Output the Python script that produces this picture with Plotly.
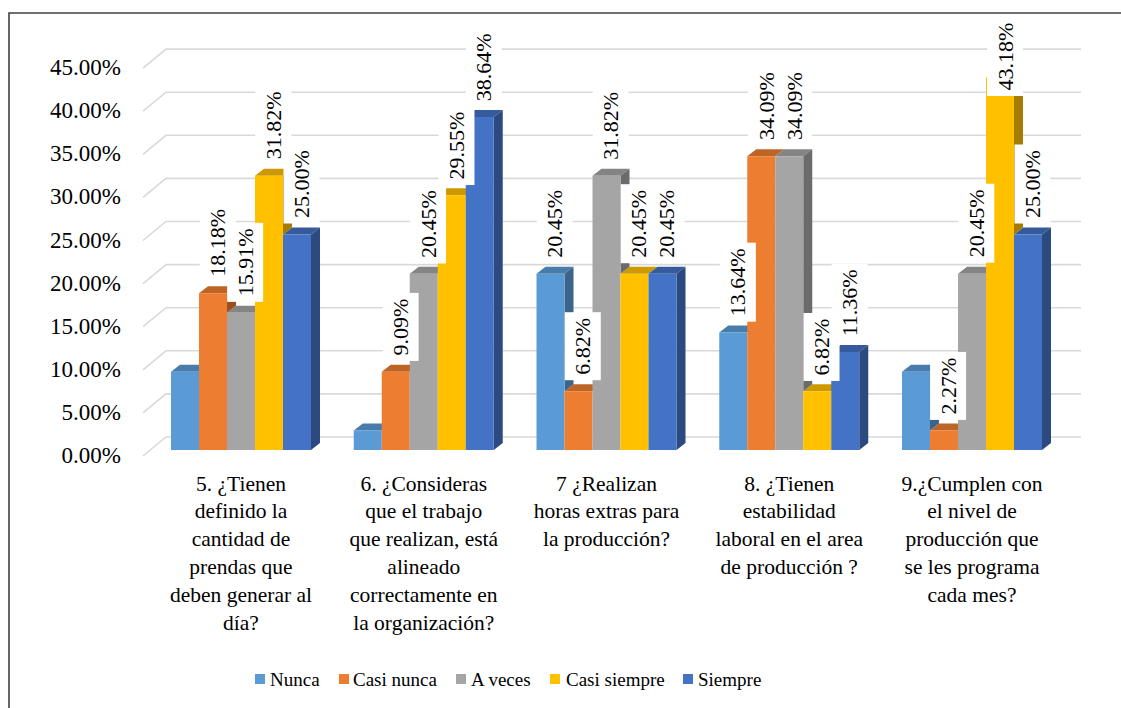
import plotly.graph_objects as go

# ---- data -------------------------------------------------------------
categories = [
    "5. ¿Tienen<br>definido la<br>cantidad de<br>prendas que<br>deben generar al<br>día?",
    "6. ¿Consideras<br>que el trabajo<br>que realizan, está<br>alineado<br>correctamente en<br>la organización?",
    "7 ¿Realizan<br>horas extras para<br>la producción?",
    "8. ¿Tienen<br>estabilidad<br>laboral en el area<br>de producción ?",
    "9.¿Cumplen con<br>el nivel de<br>producción que<br>se les programa<br>cada mes?",
]
series_names = ["Nunca", "Casi nunca", "A veces", "Casi siempre", "Siempre"]
nunca = [9.09, 2.27, 20.45, 13.64, 9.09]
casi_nunca = [18.18, 9.09, 6.82, 34.09, 2.27]
a_veces = [15.91, 20.45, 31.82, 34.09, 20.45]
casi_siempre = [31.82, 29.55, 20.45, 6.82, 43.18]
siempre = [25.00, 38.64, 20.45, 11.36, 25.00]
# which bars carry a value label
label_nunca = [False, False, True, True, False]
label_other = [True, True, True, True, True]
y_ticks = [0, 5, 10, 15, 20, 25, 30, 35, 40, 45]
y_tick_text = [f"{v:.2f}%" for v in y_ticks]

series_values = [nunca, casi_nunca, a_veces, casi_siempre, siempre]
series_labels = [label_nunca, label_other, label_other, label_other, label_other]
colors = ["#5B9BD5", "#ED7D31", "#A5A5A5", "#FFC000", "#4472C4"]


def shade(hex_color, f):
    r, g, b = (int(hex_color[i:i + 2], 16) for i in (1, 3, 5))
    return f"rgb({int(r * f)},{int(g * f)},{int(b * f)})"


# ---- geometry (pixels of the 1121x708 page) ---------------------------
W, H = 1121, 708
L, R, T, B = 140, 1088, 14, 462          # plot area
PX_PER_CAT = 182.75
PX_PER_PCT = 8.62
ZERO_PX = 450
CAT0_PX = 241

x_lo = -(CAT0_PX - L) / PX_PER_CAT
x_hi = (R - CAT0_PX) / PX_PER_CAT
y_lo = -(B - ZERO_PX) / PX_PER_PCT
y_hi = (ZERO_PX - T) / PX_PER_PCT

BAR_W = 28 / PX_PER_CAT
DX = 9 / PX_PER_CAT          # depth of bars, horizontal
DY = 7 / PX_PER_PCT          # depth of bars, vertical

# back wall / floor offsets for gridlines
GX_FRONT = (143 - CAT0_PX) / PX_PER_CAT
GX_BACK = (166 - CAT0_PX) / PX_PER_CAT
GX_END = (1081 - CAT0_PX) / PX_PER_CAT
GY_FRONT = -6 / PX_PER_PCT
GY_BACK = 13 / PX_PER_PCT


def paper_x(px):
    return (px - L) / (R - L)


def paper_y(py):
    return (B - py) / (B - T)


FONT = '"Liberation Serif", "Times New Roman", Times, serif'

fig = go.Figure()
shapes = []
annotations = []

# gridlines on the back wall with their floor diagonal
for v in y_ticks:
    shapes.append(dict(
        type="path", xref="x", yref="y", layer="below",
        path=(f"M {GX_FRONT},{v + GY_FRONT} L {GX_BACK},{v + GY_BACK} "
              f"L {GX_END},{v + GY_BACK}"),
        line=dict(color="#D9D9D9", width=1.6),
    ))

n_series = len(series_values)
top_faces, side_faces = [], []
for k, (vals, col) in enumerate(zip(series_values, colors)):
    offset = (k - n_series / 2) * BAR_W
    fig.add_trace(go.Bar(
        x=list(range(len(categories))), y=vals, name=series_names[k],
        offset=offset, width=BAR_W,
        marker=dict(color=col, line=dict(width=0)),
        showlegend=False, hoverinfo="y+name",
    ))
    for i, v in enumerate(vals):
        xl = i + offset
        xr = xl + BAR_W
        top_faces.append(dict(
            type="path", xref="x", yref="y", layer="below",
            path=(f"M {xl},{v} L {xr},{v} L {xr + DX},{v + DY} "
                  f"L {xl + DX},{v + DY} Z"),
            fillcolor=shade(col, 0.8), line=dict(width=0),
        ))
        base = series_values[k + 1][i] if k + 1 < n_series else 0
        if base < v:
            side_faces.append(dict(
                type="path", xref="x", yref="y", layer="below",
                path=(f"M {xr},{base} L {xr + DX},{base + DY} "
                      f"L {xr + DX},{v + DY} L {xr},{v} Z"),
                fillcolor=shade(col, 0.65), line=dict(width=0),
            ))

shapes += top_faces + side_faces

# value labels, rotated in white boxes
LABEL_SHIFT = 10
LABEL_BOX = 80
TOP_LIMIT_PX = 17
for k, vals in enumerate(series_values):
    offset = (k - n_series / 2) * BAR_W
    for i, v in enumerate(vals):
        if not series_labels[k][i]:
            continue
        xc = i + offset + BAR_W / 2 + DX / 2
        top_px = ZERO_PX - v * PX_PER_PCT - LABEL_SHIFT - LABEL_BOX
        if top_px < TOP_LIMIT_PX:
            y, yanchor, yshift = (ZERO_PX - TOP_LIMIT_PX) / PX_PER_PCT, "top", 0
        else:
            y, yanchor, yshift = v, "bottom", LABEL_SHIFT
        annotations.append(dict(
            x=xc, y=y, xref="x", yref="y", text=f"{v:.2f}%",
            showarrow=False, textangle=-90, xanchor="center",
            yanchor=yanchor, yshift=yshift,
            font=dict(family=FONT, size=22, color="#000000"),
            bgcolor="#FFFFFF", borderpad=5,
        ))

# legend drawn as swatches and labels along the bottom
legend_swatch_px = [255, 339, 456, 550, 683]
legend_text_px = [268, 351, 469, 564, 696]
LEGEND_Y = 679
for name, col, sx, tx in zip(series_names, colors, legend_swatch_px, legend_text_px):
    shapes.append(dict(
        type="rect", xref="paper", yref="paper",
        x0=paper_x(sx), x1=paper_x(sx + 10),
        y0=paper_y(LEGEND_Y + 5), y1=paper_y(LEGEND_Y - 5),
        fillcolor=col, line=dict(width=0),
    ))
    annotations.append(dict(
        x=paper_x(tx), y=paper_y(LEGEND_Y), xref="paper", yref="paper",
        text=name, showarrow=False, xanchor="left", yanchor="middle",
        font=dict(family=FONT, size=19, color="#000000"),
    ))

# chart frame
shapes.append(dict(
    type="rect", xref="paper", yref="paper",
    x0=paper_x(9), x1=paper_x(1140), y0=paper_y(730), y1=paper_y(13),
    line=dict(color="#404040", width=1.6), fillcolor="rgba(0,0,0,0)",
))

fig.update_layout(
    width=W, height=H,
    margin=dict(l=L, r=W - R, t=T, b=H - B),
    paper_bgcolor="#FFFFFF", plot_bgcolor="rgba(0,0,0,0)",
    barmode="overlay",
    showlegend=False,
    shapes=shapes,
    annotations=annotations,
    xaxis=dict(
        range=[x_lo, x_hi], tickmode="array",
        tickvals=list(range(len(categories))), ticktext=categories,
        showgrid=False, zeroline=False, showline=False, ticks="",
        tickfont=dict(family=FONT, size=21.5, color="#000000"),
        ticklabelstandoff=6, fixedrange=True,
    ),
    yaxis=dict(
        range=[y_lo, y_hi], tickmode="array",
        tickvals=y_ticks, ticktext=y_tick_text,
        showgrid=False, zeroline=False, showline=False, ticks="",
        tickfont=dict(family=FONT, size=23, color="#000000"),
        ticklabelshift=5, ticklabelstandoff=18, fixedrange=True,
    ),
)

fig.write_html("out.html")
